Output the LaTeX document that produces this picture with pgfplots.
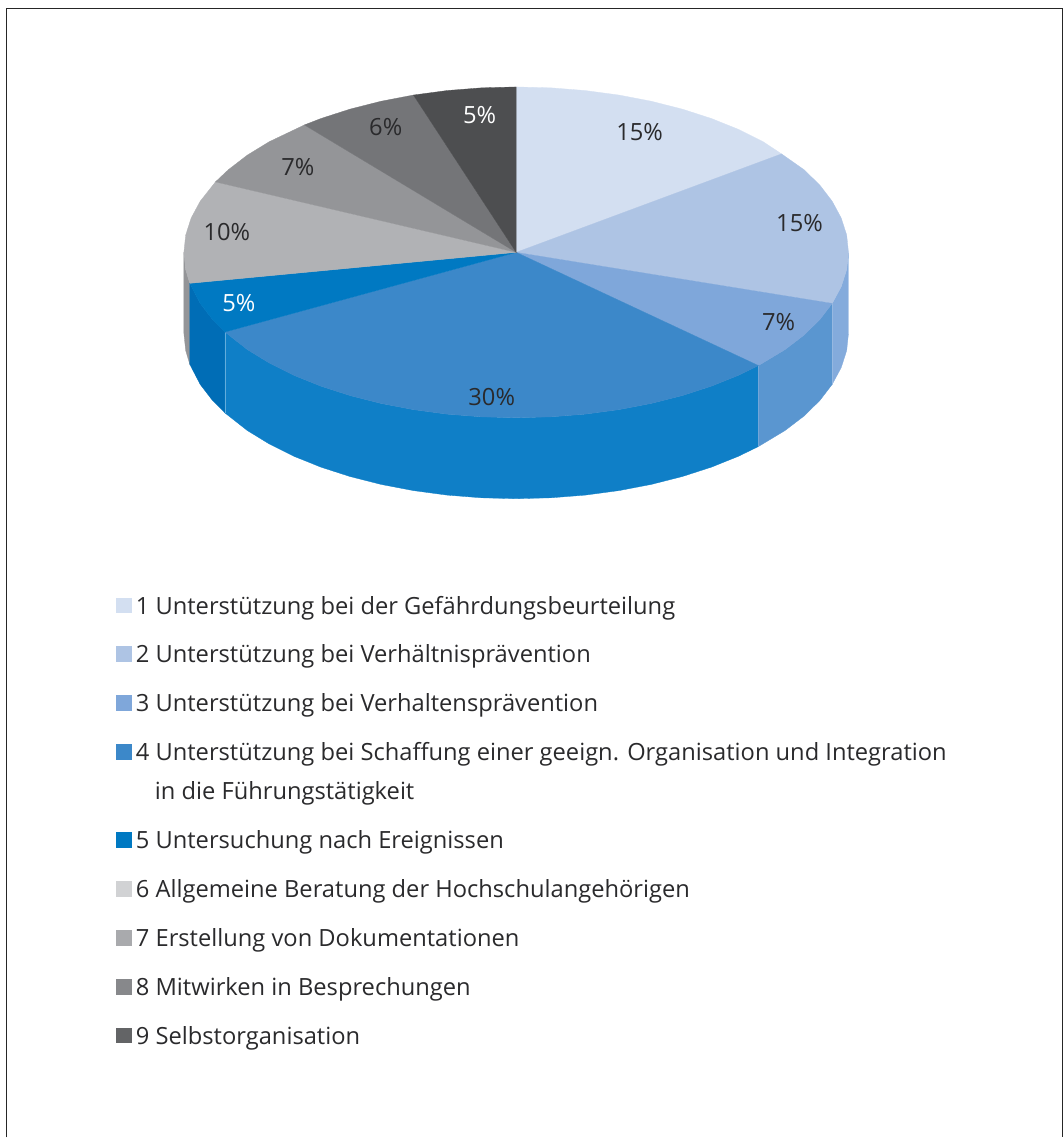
\documentclass[border=0pt]{standalone}
\usepackage{pgfplots}
\pgfplotsset{compat=1.18}
\usepackage{fontspec}
\setmainfont{Open Sans}
\definecolor{s1}{HTML}{D3DFF1}
\definecolor{s2}{HTML}{AEC4E4}
\definecolor{s3}{HTML}{7FA7DA}
\definecolor{s4}{HTML}{3C88C9}
\definecolor{s5}{HTML}{0079C2}
\definecolor{s6}{HTML}{B1B2B5}
\definecolor{s7}{HTML}{949598}
\definecolor{s8}{HTML}{747578}
\definecolor{s9}{HTML}{4D4E50}
\definecolor{r2}{HTML}{84ABDC}
\definecolor{r3}{HTML}{5A96D0}
\definecolor{r4}{HTML}{0F7FC7}
\definecolor{r5}{HTML}{006DB6}
\definecolor{r6}{HTML}{949598}
\definecolor{l6}{HTML}{D1D2D4}
\definecolor{l7}{HTML}{A9AAAD}
\definecolor{l8}{HTML}{87888B}
\definecolor{l9}{HTML}{636466}
\definecolor{txt}{HTML}{2A2A2C}
\newcommand{\lfs}{\fontsize{23.7pt}{29pt}\selectfont}
\tikzset{lb/.style={inner sep=0pt, outer sep=0pt, text=txt, font=\lfs}}
\begin{document}
\begin{tikzpicture}
\begin{axis}[
  scale only axis, width=1064pt, height=1138pt,
  xmin=0, xmax=1064, ymin=0, ymax=1138, y dir=reverse,
  hide axis, clip=false,
]
% page extent
\addplot[draw=none, mark=none, forget plot] coordinates {(0,0) (1064,1138)};
% frame (open at the bottom)
\addplot[black!85, mark=none, line width=1.4pt] coordinates {(6.5,1138) (6.5,8.5) (1063,8.5) (1063,1138)};
% rims
\addplot[fill=r6, draw=r6, mark=none, line width=.3pt] coordinates {(189.9,283.5) (185.8,269.8) (184,252.5) (184,333.5) (185.8,350.8) (189.9,364.5)} -- cycle;
\addplot[fill=r5, draw=r5, mark=none, line width=.3pt] coordinates {(225.1,332.2) (212.7,319.8) (200.3,303.6) (189.9,283.5) (189.9,364.5) (200.3,384.6) (212.7,400.8) (225.1,413.2)} -- cycle;
\addplot[fill=r4, draw=r4, mark=none, line width=.3pt] coordinates {(758.9,365.8) (739,375.5) (711.9,386.4) (682.8,395.8) (651.7,403.7) (619.3,409.9) (585.6,414.4) (551.3,417.1) (516.5,418) (481.7,417.1) (447.4,414.4) (413.7,409.9) (381.3,403.7) (350.2,395.8) (321.1,386.4) (294,375.5) (269.4,363.2) (247.5,349.8) (225.1,332.2) (225.1,413.2) (247.5,430.8) (269.4,444.2) (294,456.5) (321.1,467.4) (350.2,476.8) (381.3,484.7) (413.7,490.9) (447.4,495.4) (481.7,498.1) (516.5,499) (551.3,498.1) (585.6,495.4) (619.3,490.9) (651.7,484.7) (682.8,476.8) (711.9,467.4) (739,456.5) (758.9,446.8)} -- cycle;
\addplot[fill=r3, draw=r3, mark=none, line width=.3pt] coordinates {(832.7,303.6) (820.3,319.8) (804.5,335.3) (785.5,349.8) (758.9,365.8) (758.9,446.8) (785.5,430.8) (804.5,416.3) (820.3,400.8) (832.7,384.6)} -- cycle;
\addplot[fill=r2, draw=r2, mark=none, line width=.3pt] coordinates {(849,252.5) (847.2,269.8) (841.7,286.9) (832.7,303.6) (832.7,384.6) (841.7,367.9) (847.2,350.8) (849,333.5)} -- cycle;
% thin seams on the rim
\addplot[white!35!r4, mark=none, line width=.4pt] coordinates {(225.1,332.2) (225.1,413.2)};
\addplot[white!15!r3, mark=none, line width=.4pt] coordinates {(758.9,365.8) (758.9,446.8)};
\addplot[white!15!r2, mark=none, line width=.4pt] coordinates {(832.7,303.6) (832.7,384.6)};
% top face
\addplot[fill=s1, draw=s1, mark=none, line width=.3pt] coordinates {(516.5,252.5) (516.5,87) (551.3,87.9) (585.6,90.6) (619.3,95.1) (651.7,101.3) (682.8,109.2) (711.9,118.6) (739,129.5) (763.6,141.8) (782,154)} -- cycle;
\addplot[fill=s2, draw=s2, mark=none, line width=.3pt] coordinates {(516.5,252.5) (782,154) (804.5,169.8) (820.3,185.2) (832.7,201.4) (841.7,218.1) (847.2,235.2) (849,252.5) (847.2,269.8) (841.7,286.9) (832.7,303.6)} -- cycle;
\addplot[fill=s3, draw=s3, mark=none, line width=.3pt] coordinates {(516.5,252.5) (832.7,303.6) (820.3,319.8) (804.5,335.3) (785.5,349.8) (758.9,365.8)} -- cycle;
\addplot[fill=s4, draw=s4, mark=none, line width=.3pt] coordinates {(516.5,252.5) (758.9,365.8) (739,375.5) (711.9,386.4) (682.8,395.8) (651.7,403.7) (619.3,409.9) (585.6,414.4) (551.3,417.1) (516.5,418) (481.7,417.1) (447.4,414.4) (413.7,409.9) (381.3,403.7) (350.2,395.8) (321.1,386.4) (294,375.5) (269.4,363.2) (247.5,349.8) (225.1,332.2)} -- cycle;
\addplot[fill=s5, draw=s5, mark=none, line width=.3pt] coordinates {(516.5,252.5) (225.1,332.2) (212.7,319.8) (200.3,303.6) (189.9,283.5)} -- cycle;
\addplot[fill=s6, draw=s6, mark=none, line width=.3pt] coordinates {(516.5,252.5) (189.9,283.5) (185.8,269.8) (184,252.5) (185.8,235.2) (191.3,218.1) (200.3,201.4) (215.6,182)} -- cycle;
\addplot[fill=s7, draw=s7, mark=none, line width=.3pt] coordinates {(516.5,252.5) (215.6,182) (228.5,169.8) (247.5,155.2) (269.4,141.8) (304.6,125)} -- cycle;
\addplot[fill=s8, draw=s8, mark=none, line width=.3pt] coordinates {(516.5,252.5) (304.6,125) (321.1,118.6) (350.2,109.2) (381.3,101.3) (413.7,95.1)} -- cycle;
\addplot[fill=s9, draw=s9, mark=none, line width=.3pt] coordinates {(516.5,252.5) (413.7,95.1) (447.4,90.6) (481.7,87.9) (516.5,87)} -- cycle;
% percentage labels
\node[lb, anchor=base] at (axis cs:640,141) {15\%};
\node[lb, anchor=base] at (axis cs:800,232) {15\%};
\node[lb, anchor=base] at (axis cs:779,331) {7\%};
\node[lb, anchor=base] at (axis cs:492,406) {30\%};
\node[lb, anchor=base, text=white] at (axis cs:239,311.5) {5\%};
\node[lb, anchor=base] at (axis cs:227,241) {10\%};
\node[lb, anchor=base] at (axis cs:298,176) {7\%};
\node[lb, anchor=base] at (axis cs:386,136) {6\%};
\node[lb, anchor=base, text=white] at (axis cs:480,124) {5\%};
% legend keys
\addplot[only marks, mark=square*, mark size=7.3pt, mark options={fill=s1, draw=s1}] coordinates {(123.5,605.5)};
\addplot[only marks, mark=square*, mark size=7.3pt, mark options={fill=s2, draw=s2}] coordinates {(123.5,654)};
\addplot[only marks, mark=square*, mark size=7.3pt, mark options={fill=s3, draw=s3}] coordinates {(123.5,703)};
\addplot[only marks, mark=square*, mark size=7.3pt, mark options={fill=s4, draw=s4}] coordinates {(123.5,752)};
\addplot[only marks, mark=square*, mark size=7.3pt, mark options={fill=s5, draw=s5}] coordinates {(123.5,840)};
\addplot[only marks, mark=square*, mark size=7.3pt, mark options={fill=l6, draw=l6}] coordinates {(123.5,889)};
\addplot[only marks, mark=square*, mark size=7.3pt, mark options={fill=l7, draw=l7}] coordinates {(123.5,938)};
\addplot[only marks, mark=square*, mark size=7.3pt, mark options={fill=l8, draw=l8}] coordinates {(123.5,987)};
\addplot[only marks, mark=square*, mark size=7.3pt, mark options={fill=l9, draw=l9}] coordinates {(123.5,1036)};
% legend text
\node[lb, anchor=base west] at (axis cs:136,614.5) {1 Unterstützung bei der Gefährdungsbeurteilung};
\node[lb, anchor=base west] at (axis cs:136,663) {2 Unterstützung bei Verhältnisprävention};
\node[lb, anchor=base west] at (axis cs:136,712) {3 Unterstützung bei Verhaltensprävention};
\node[lb, anchor=base west] at (axis cs:136,761) {4 Unterstützung bei Schaffung einer geeign. Organisation und Integration};
\node[lb, anchor=base west] at (axis cs:155,800) {in die Führungstätigkeit};
\node[lb, anchor=base west] at (axis cs:136,849) {5 Untersuchung nach Ereignissen};
\node[lb, anchor=base west] at (axis cs:136,898) {6 Allgemeine Beratung der Hochschulangehörigen};
\node[lb, anchor=base west] at (axis cs:136,947) {7 Erstellung von Dokumentationen};
\node[lb, anchor=base west] at (axis cs:136,996) {8 Mitwirken in Besprechungen};
\node[lb, anchor=base west] at (axis cs:136,1045) {9 Selbstorganisation};
\end{axis}
\end{tikzpicture}
\end{document}
